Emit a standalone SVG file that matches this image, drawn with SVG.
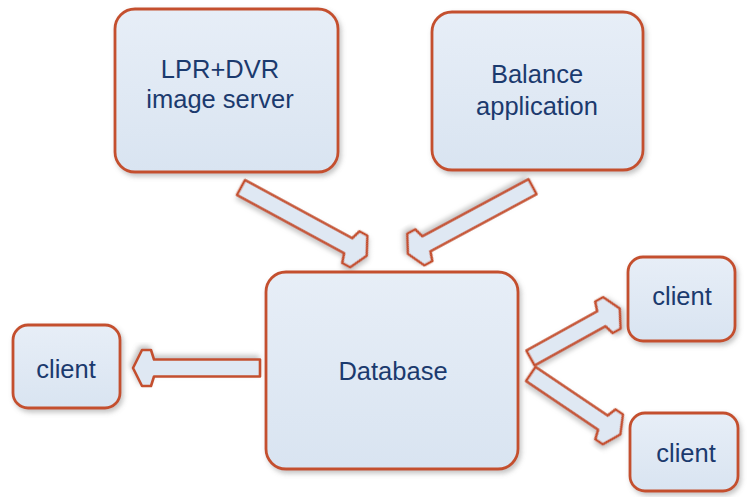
<svg xmlns="http://www.w3.org/2000/svg" width="747" height="497" viewBox="0 0 747 497">
<defs>
<linearGradient id="fillg" x1="0" y1="0" x2="0" y2="1">
<stop offset="0" stop-color="#e7eef7"/>
<stop offset="1" stop-color="#d9e4f1"/>
</linearGradient>
<filter id="sh" x="-20%" y="-20%" width="140%" height="140%">
<feDropShadow dx="2" dy="3" stdDeviation="2.5" flood-color="#7a7a7a" flood-opacity="0.45"/>
</filter>
<style>
.box{fill:url(#fillg);stroke:#c4502f;stroke-width:2.8;filter:url(#sh)}
.arr{fill:#dfe8f3;stroke:#c4502f;stroke-width:2.6;stroke-linejoin:round;filter:url(#sh)}
.t{font-family:"Liberation Sans",Arial,sans-serif;font-size:25.5px;fill:#1b3a6e;text-anchor:middle}
</style>
</defs>
<g id="connectors">
<polygon class="arr" transform="translate(241,187.5) rotate(28.5)" points="0,-8.5 122,-8.5 125,-18 134,-18 143,0 134,18 125,18 122,8.5 0,8.5"/>
<polygon class="arr" transform="translate(532.5,186.7) rotate(151.7)" points="0,-8.5 120.5,-8.5 123.5,-18 132.5,-18 141.5,0 132.5,18 123.5,18 120.5,8.5 0,8.5"/>
<polygon class="arr" transform="translate(260,368) rotate(180)" points="0,-8.5 106,-8.5 109,-18 118,-18 127,0 118,18 109,18 106,8.5 0,8.5"/>
<polygon class="arr" transform="translate(530.5,358) rotate(-29)" points="0,-8.5 81,-8.5 84,-18 93,-18 102,0 93,18 84,18 81,8.5 0,8.5"/>
<polygon class="arr" transform="translate(530.8,374) rotate(34)" points="0,-8.5 87,-8.5 90,-18 99,-18 108,0 99,18 90,18 87,8.5 0,8.5"/>
</g>
<g id="lpr">
<rect class="box" x="115" y="9" width="223" height="163" rx="20"/>
<text class="t" x="220" y="78">LPR+DVR</text>
<text class="t" x="220" y="108">image server</text>
</g>
<g id="balance">
<rect class="box" x="432" y="12" width="211" height="158" rx="20"/>
<text class="t" x="537" y="83">Balance</text>
<text class="t" x="537" y="115">application</text>
</g>
<g id="database">
<rect class="box" x="266" y="272" width="252" height="197" rx="20"/>
<text class="t" x="393" y="380">Database</text>
</g>
<g id="client-left">
<rect class="box" x="13" y="325" width="107" height="83" rx="15"/>
<text class="t" x="66" y="378">client</text>
</g>
<g id="client-top-right">
<rect class="box" x="628" y="257" width="107" height="84" rx="15"/>
<text class="t" x="682" y="305">client</text>
</g>
<g id="client-bottom-right">
<rect class="box" x="630" y="413" width="108" height="78" rx="15"/>
<text class="t" x="686" y="462">client</text>
</g>
</svg>
